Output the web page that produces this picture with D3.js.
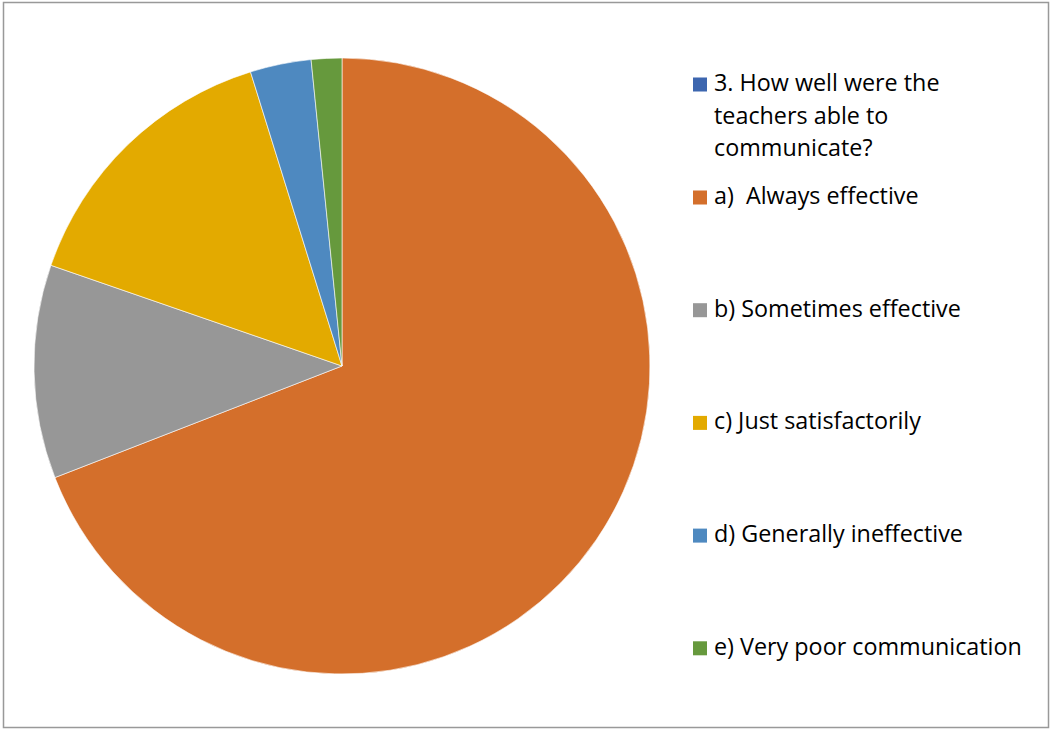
<!DOCTYPE html>
<html>
<head>
<meta charset="utf-8">
<script src="https://cdn.jsdelivr.net/npm/d3@7"></script>
<style>
  html, body { margin: 0; padding: 0; background: #fff; }
  svg { display: block; }
</style>
</head>
<body>
<svg id="chart" width="1051" height="729"></svg>
<script>
// Survey answers (share of respondents, %)
const seriesName = "3. How well were the teachers able to communicate?";
const categories = [
  "a)  Always effective",
  "b) Sometimes effective",
  "c) Just satisfactorily",
  "d) Generally ineffective",
  "e) Very poor communication"
];
const values = [69.1, 11.2, 14.9, 3.2, 1.6];
const colors = ["#D46F2B", "#979797", "#E3AA00", "#4E89C0", "#66993D"];
const seriesColor = "#3D66AF";

const svg = d3.select("#chart");

// outer frame
svg.append("rect")
  .attr("x", 3.5).attr("y", 2.5)
  .attr("width", 1045).attr("height", 725)
  .attr("fill", "#fff")
  .attr("stroke", "#999").attr("stroke-width", 1.5);

// pie
const cx = 342, cy = 366, radius = 308;
const pie = d3.pie().sort(null).value(d => d.value);
const arc = d3.arc().innerRadius(0).outerRadius(radius);
const data = categories.map((c, i) => ({ name: c, value: values[i], color: colors[i] }));

svg.append("g")
  .attr("transform", `translate(${cx},${cy})`)
  .selectAll("path")
  .data(pie(data))
  .join("path")
  .attr("d", arc)
  .attr("fill", d => d.data.color)
  .attr("stroke", "#fff")
  .attr("stroke-width", 0.6);

// legend
const font = "'Open Sans', 'Noto Sans', sans-serif";
const legend = svg.append("g")
  .attr("font-family", font)
  .style("font-variant-ligatures", "none");
const markerX = 693, textX = 714, markerSize = 14;

// size the legend font so the longest entry spans the legend column
const probe = legend.append("text").attr("font-size", 20).text(categories[4]);
const probeLen = probe.node().getComputedTextLength();
probe.remove();
const fontSize = 20 * 308 / probeLen;

const items = [
  { lines: ["3. How well were the", "teachers able to", "communicate?"], color: seriesColor, baseline: 91 }
].concat(categories.map((c, i) => ({ lines: [c], color: colors[i], baseline: 204 + i * 112.7 })));

items.forEach(it => {
  legend.append("rect")
    .attr("x", markerX).attr("y", it.baseline - 13.5)
    .attr("width", markerSize).attr("height", markerSize)
    .attr("fill", it.color);
  const t = legend.append("text")
    .attr("x", textX).attr("y", it.baseline)
    .attr("font-size", fontSize)
    .attr("fill", "#000")
    .style("white-space", "pre");
  it.lines.forEach((ln, j) => {
    t.append("tspan").attr("x", textX).attr("y", it.baseline + j * 32.5).text(ln);
  });
});
</script>
</body>
</html>
